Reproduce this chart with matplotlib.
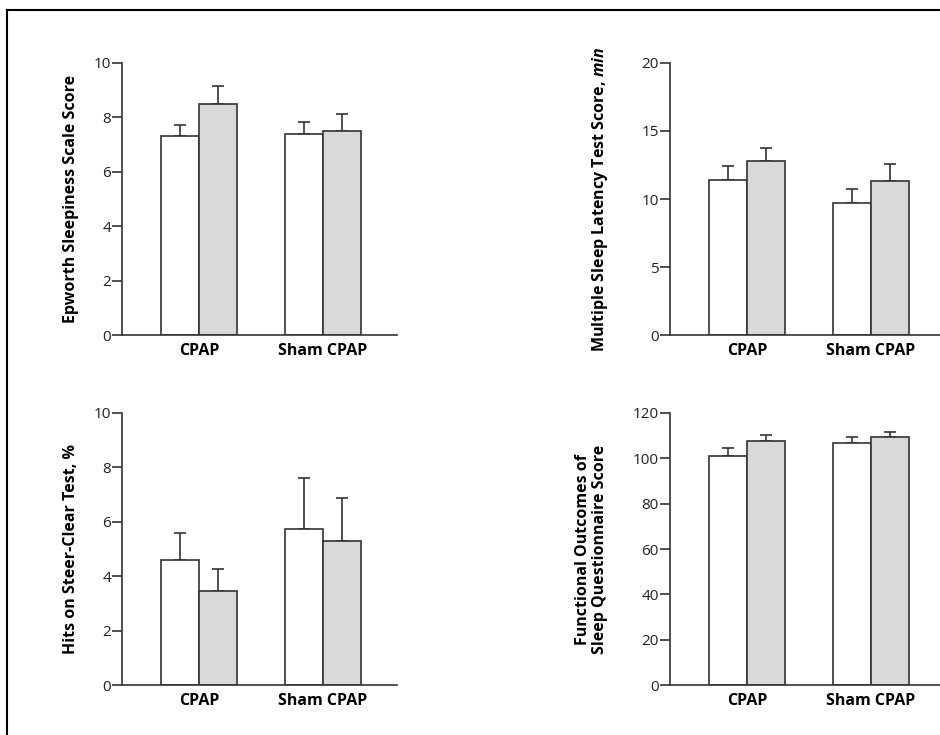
import numpy as np
import matplotlib
matplotlib.use('Agg')
import matplotlib.pyplot as plt
from matplotlib.lines import Line2D

plt.rcParams['font.family'] = ['Open Sans', 'DejaVu Sans']
plt.rcParams['mathtext.fontset'] = 'custom'
plt.rcParams['mathtext.it'] = 'Open Sans:italic:bold'
plt.rcParams['mathtext.rm'] = 'Open Sans:bold'

groups = ['CPAP', 'Sham CPAP']

# [white bar, gray bar] per group, with upper error
ess_mean = [[7.3, 8.5], [7.4, 7.5]]
ess_err = [[0.42, 0.65], [0.44, 0.64]]

mslt_mean = [[11.4, 12.8], [9.7, 11.3]]
mslt_err = [[1.0, 0.98], [1.0, 1.27]]

steer_mean = [[4.6, 3.45], [5.75, 5.3]]
steer_err = [[1.0, 0.82], [1.85, 1.57]]

fosq_mean = [[101.1, 107.8], [106.6, 109.6]]
fosq_err = [[3.4, 2.5], [2.8, 2.0]]

panels = [
    dict(mean=ess_mean, err=ess_err, ylim=10, ticks=[0, 2, 4, 6, 8, 10],
         label='Epworth Sleepiness Scale Score', pos=(0.1298, 0.5442), lx=-0.185),
    dict(mean=mslt_mean, err=mslt_err, ylim=20, ticks=[0, 5, 10, 15, 20],
         label=r'Multiple Sleep Latency Test Score, $\mathit{min}$', pos=(0.7128, 0.5442), lx=-0.254),
    dict(mean=steer_mean, err=steer_err, ylim=10, ticks=[0, 2, 4, 6, 8, 10],
         label='Hits on Steer-Clear Test, %', pos=(0.1298, 0.068), lx=-0.185),
    dict(mean=fosq_mean, err=fosq_err, ylim=120, ticks=[0, 20, 40, 60, 80, 100, 120],
         label='Functional Outcomes of\nSleep Questionnaire Score', pos=(0.7128, 0.068), lx=-0.285),
]

fig = plt.figure(figsize=(9.4, 7.35), dpi=100)

width = 0.306
edge = '#333333'
fills = ['white', '#d9d9d9']

for p in panels:
    ax = fig.add_axes([p['pos'][0], p['pos'][1], 0.2926, 0.3701])
    x = np.arange(len(groups))
    mean = np.array(p['mean'])
    err = np.array(p['err'])
    for k in range(2):
        xs = x + (k - 0.5) * width
        ax.bar(xs, mean[:, k], width, color=fills[k], edgecolor=edge, linewidth=1.2, zorder=2)
        ax.errorbar(xs, mean[:, k], yerr=[np.zeros(2), err[:, k]], fmt='none',
                    ecolor=edge, elinewidth=1.2, capsize=4, capthick=1.2, zorder=1)
    ax.set_xlim(-0.621, 1.597)
    ax.set_ylim(0, p['ylim'])
    ax.set_yticks(p['ticks'])
    ax.set_xticks(x)
    ax.set_xticklabels(groups, fontsize=11.5, fontweight='bold')
    ax.tick_params(axis='x', length=0, pad=6)
    ax.tick_params(axis='y', length=7, width=1.2, labelsize=11, pad=1, color=edge, labelcolor='#222222')
    for s in ['top', 'right']:
        ax.spines[s].set_visible(False)
    for s in ['left', 'bottom']:
        ax.spines[s].set_linewidth(1.2)
        ax.spines[s].set_color(edge)
    ax.set_ylabel(p['label'], fontsize=11.5, fontweight='bold', linespacing=1.1)
    ax.yaxis.label.set_va('center')
    ax.yaxis.set_label_coords(p['lx'], 0.5)

# outer frame (top and left)
fig.add_artist(Line2D([0.0075, 1.0], [0.9864, 0.9864], color='black', lw=1.5, transform=fig.transFigure))
fig.add_artist(Line2D([0.0075, 0.0075], [0.0, 0.9864], color='black', lw=1.5, transform=fig.transFigure))

fig.savefig('out.png', dpi=100)
